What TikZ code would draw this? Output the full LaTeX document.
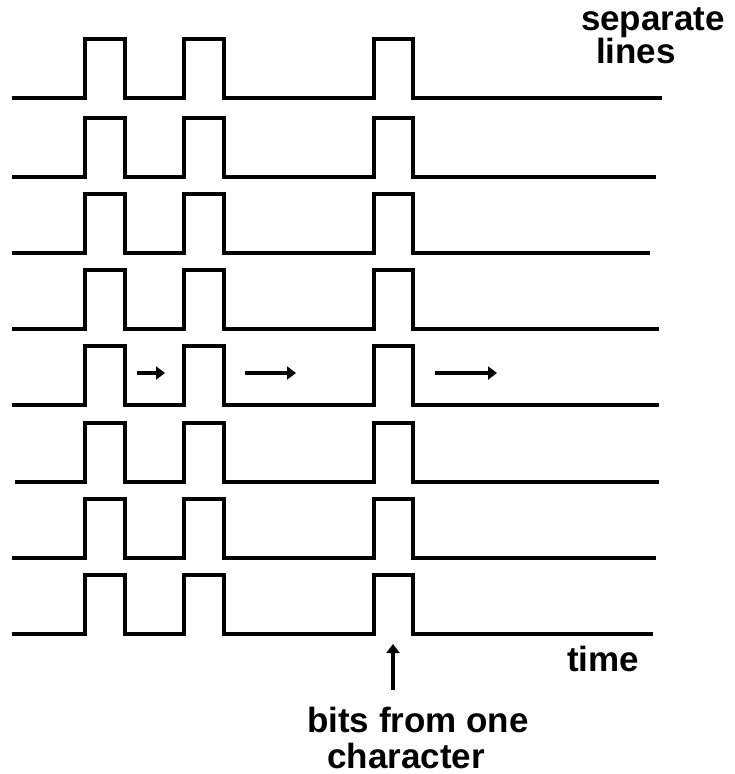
\documentclass[tikz,border=0pt]{standalone}
\usepackage{fontspec}
\setmainfont{Liberation Sans}
\usetikzlibrary{arrows.meta}
\begin{document}
\begin{tikzpicture}[x=1pt,y=-1pt,
  wave/.style={line width=4.5pt,line join=miter,line cap=butt},
  flow/.style={line width=4pt,-{Triangle[length=9pt,width=13pt]}},
  lbl/.style={font=\fontsize{35}{38}\selectfont\bfseries,inner sep=0pt,anchor=base}]
\useasboundingbox (0,0) rectangle (734,774);
\foreach \y/\xs/\xe in {98/12/662,177/12/656,253/12/650,329/12/659,405/12/659,482/15/659,558/12/656,634/12/653}{
  \draw[wave] (\xs,\y) -- (85,\y) -- (85,\y-59) -- (125,\y-59) -- (125,\y)
    -- (184,\y) -- (184,\y-59) -- (224,\y-59) -- (224,\y)
    -- (374,\y) -- (374,\y-59) -- (413,\y-59) -- (413,\y) -- (\xe,\y);
}
\coordinate (a1s) at (137,373); \coordinate (a1e) at (165,373);
\coordinate (a2s) at (245,373); \coordinate (a2e) at (296,373);
\coordinate (a3s) at (435,373); \coordinate (a3e) at (497,373);
\draw[flow] (a1s) -- (a1e);
\draw[flow] (a2s) -- (a2e);
\draw[flow] (a3s) -- (a3e);
\node[lbl] (sep) at (653,30) {separate};
\node[lbl] (lines) at (636,63) {lines};
\node[lbl] (time) at (603,671) {time};
\node[lbl] (bits) at (418,732) {bits from one};
\node[lbl] (char) at (406,768) {character};
\coordinate (up) at (393,690);
\coordinate (uptip) at (393,644);
\draw[flow] (up) -- (uptip);
\end{tikzpicture}
\end{document}
